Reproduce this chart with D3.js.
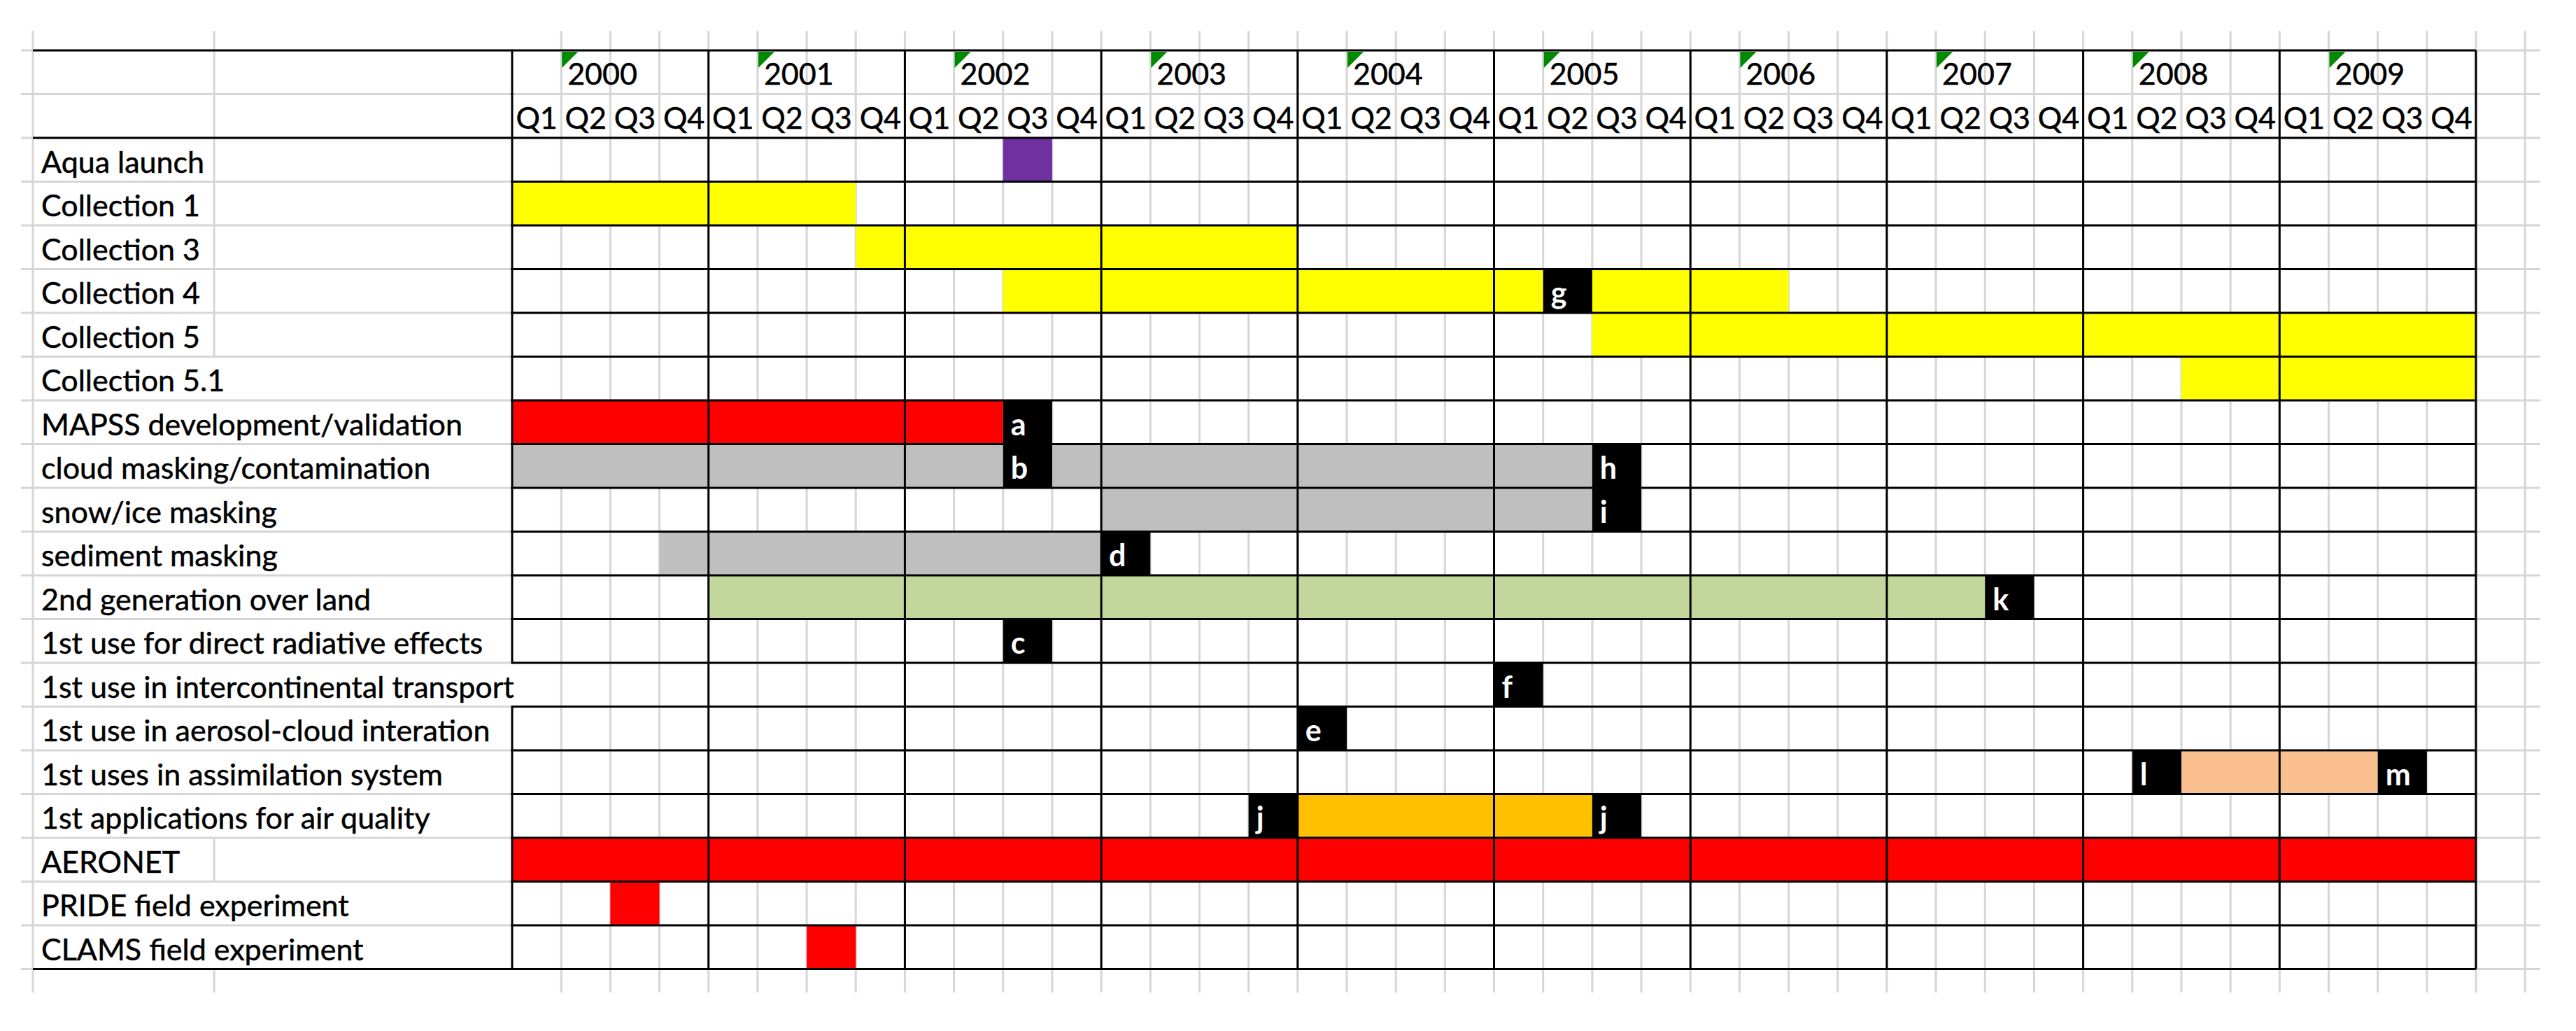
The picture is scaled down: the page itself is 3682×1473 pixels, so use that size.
<!DOCTYPE html>
<html>
<head>
<meta charset="utf-8">
<script src="https://cdn.jsdelivr.net/npm/d3@7"></script>
<style>
  body { margin: 0; background: #fff; }
  text { font-family: Lato, "Open Sans", sans-serif; }
</style>
</head>
<body>
<script>
'use strict';

// tick labels
var years = ['2000', '2001', '2002', '2003', '2004', '2005', '2006', '2007', '2008', '2009'];
var quarters = ['Q1', 'Q2', 'Q3', 'Q4'];

// row labels, top to bottom
var tasks = [
    'Aqua launch',
    'Collection 1',
    'Collection 3',
    'Collection 4',
    'Collection 5',
    'Collection 5.1',
    'MAPSS development/validation',
    'cloud masking/contamination',
    'snow/ice masking',
    'sediment masking',
    '2nd generation over land',
    '1st use for direct radiative effects',
    '1st use in intercontinental transport',
    '1st use in aerosol-cloud interation',
    '1st uses in assimilation system',
    '1st applications for air quality',
    'AERONET',
    'PRIDE field experiment',
    'CLAMS field experiment'
];

// [row, first quarter, last quarter, kind]
var bars = [
    ['Aqua launch', '2002 Q3', '2002 Q3', 'launch'],
    ['Collection 1', '2000 Q1', '2001 Q3', 'collection'],
    ['Collection 3', '2001 Q4', '2003 Q4', 'collection'],
    ['Collection 4', '2002 Q3', '2005 Q1', 'collection'],
    ['Collection 4', '2005 Q3', '2006 Q2', 'collection'],
    ['Collection 5', '2005 Q3', '2009 Q4', 'collection'],
    ['Collection 5.1', '2008 Q3', '2009 Q4', 'collection'],
    ['MAPSS development/validation', '2000 Q1', '2002 Q2', 'network'],
    ['cloud masking/contamination', '2000 Q1', '2002 Q2', 'masking'],
    ['cloud masking/contamination', '2002 Q4', '2005 Q2', 'masking'],
    ['snow/ice masking', '2003 Q1', '2005 Q2', 'masking'],
    ['sediment masking', '2000 Q4', '2002 Q4', 'masking'],
    ['2nd generation over land', '2001 Q1', '2007 Q2', 'land'],
    ['1st uses in assimilation system', '2008 Q3', '2009 Q2', 'assimilation'],
    ['1st applications for air quality', '2004 Q1', '2005 Q2', 'airquality'],
    ['AERONET', '2000 Q1', '2009 Q4', 'network'],
    ['PRIDE field experiment', '2000 Q3', '2000 Q3', 'network'],
    ['CLAMS field experiment', '2001 Q3', '2001 Q3', 'network']
];

// [row, quarter, letter]
var markers = [
    ['Collection 4', '2005 Q2', 'g'],
    ['MAPSS development/validation', '2002 Q3', 'a'],
    ['cloud masking/contamination', '2002 Q3', 'b'],
    ['cloud masking/contamination', '2005 Q3', 'h'],
    ['snow/ice masking', '2005 Q3', 'i'],
    ['sediment masking', '2003 Q1', 'd'],
    ['2nd generation over land', '2007 Q3', 'k'],
    ['1st use for direct radiative effects', '2002 Q3', 'c'],
    ['1st use in intercontinental transport', '2005 Q1', 'f'],
    ['1st use in aerosol-cloud interation', '2004 Q1', 'e'],
    ['1st uses in assimilation system', '2008 Q2', 'l'],
    ['1st uses in assimilation system', '2009 Q3', 'm'],
    ['1st applications for air quality', '2003 Q4', 'j'],
    ['1st applications for air quality', '2005 Q3', 'j']
];

var kind_colors = {
    launch: '#7030A0',
    collection: '#FFFF00',
    network: '#FF0000',
    masking: '#BFBFBF',
    land: '#C3D69B',
    assimilation: '#FAC090',
    airquality: '#FFC000'
};

var width = 3682,
    height = 1473,
    font_size = 43,
    label_x = 59,
    col_a = 47,
    col_b = 306,
    grid_color = '#d6d6d6';

function quarterIndex(s) {
    var parts = s.split(' ');
    return years.indexOf(parts[0]) * 4 + quarters.indexOf(parts[1]);
}

var n_quarters = years.length * quarters.length;
var x = d3.scaleLinear().domain([0, n_quarters]).range([732, 3539]);
var rows = ['year', 'quarter'].concat(tasks);
var y = d3.scaleBand().domain(rows).range([72, 1384.5]);
var rh = y.bandwidth();

var svg = d3.select('body').append('svg')
    .attr('width', width)
    .attr('height', height);

svg.append('rect').attr('width', width).attr('height', height).attr('fill', '#fff');

var grid_layer = svg.append('g').attr('stroke', grid_color).attr('stroke-width', 3),
    fill_layer = svg.append('g'),
    border_layer = svg.append('g').attr('stroke', '#000').attr('stroke-width', 3),
    text_layer = svg.append('g').attr('font-size', font_size);

// row labels (measured first, overflowing text hides grid lines)
var labels = text_layer.selectAll('text.label')
    .data(tasks)
    .join('text')
    .attr('class', 'label')
    .attr('x', label_x)
    .attr('y', function(d) { return y(d) + rh - 13; })
    .attr('fill', '#000')
    .attr('stroke', '#000')
    .attr('stroke-width', 0.5)
    .text(function(d) { return d; });

var label_end = {};
labels.each(function(d) { label_end[d] = label_x + this.getComputedTextLength(); });

// years, with the little green text-number flag in the Q2 cell
years.forEach(function(yr, i) {
    var x0 = x(i * 4 + 1);
    text_layer.append('text')
        .attr('x', x0 + 9)
        .attr('y', y('year') + rh - 14)
        .attr('stroke', '#000')
        .attr('stroke-width', 0.5)
        .text(yr);
    fill_layer.append('path')
        .attr('d', d3.line()([[x0 + 1, y('year') + 2], [x0 + 24, y('year') + 2], [x0 + 1, y('year') + 25]]))
        .attr('fill', '#008a00');
});

// quarter labels
text_layer.selectAll('text.q')
    .data(d3.range(n_quarters))
    .join('text')
    .attr('class', 'q')
    .attr('x', function(d) { return (x(d) + x(d + 1)) / 2; })
    .attr('y', y('quarter') + rh - 13)
    .attr('text-anchor', 'middle')
    .attr('stroke', '#000')
    .attr('stroke-width', 0.5)
    .text(function(d) { return quarters[d % 4]; });

// spreadsheet gridlines
var grid_top = 44,
    grid_bottom = 1418,
    grid_left = 30,
    grid_right = 3631;

grid_layer.selectAll('line.v')
    .data(d3.range(1, n_quarters + 2))
    .join('line')
    .attr('x1', function(d) { return x(d); })
    .attr('x2', function(d) { return x(d); })
    .attr('y1', grid_top)
    .attr('y2', grid_bottom);

grid_layer.append('line')
    .attr('x1', col_a).attr('x2', col_a)
    .attr('y1', grid_top).attr('y2', grid_bottom);

// column B line: only where the label does not run over it
var col_b_segments = [[grid_top, y('year')], [y('year'), y('quarter') + rh], [y.range()[1], grid_bottom]];
tasks.forEach(function(t) {
    if (label_end[t] < col_b - 2) col_b_segments.push([y(t), y(t) + rh]);
});
grid_layer.selectAll('line.b')
    .data(col_b_segments)
    .join('line')
    .attr('x1', col_b).attr('x2', col_b)
    .attr('y1', function(d) { return d[0]; })
    .attr('y2', function(d) { return d[1]; });

grid_layer.selectAll('line.h')
    .data(d3.range(rows.length + 1))
    .join('line')
    .attr('x1', grid_left)
    .attr('x2', grid_right)
    .attr('y1', function(d) { return y.range()[0] + d * rh; })
    .attr('y2', function(d) { return y.range()[0] + d * rh; });

// bars
fill_layer.selectAll('rect.bar')
    .data(bars)
    .join('rect')
    .attr('class', 'bar')
    .attr('x', function(d) { return x(quarterIndex(d[1])); })
    .attr('width', function(d) { return x(quarterIndex(d[2]) + 1) - x(quarterIndex(d[1])); })
    .attr('y', function(d) { return y(d[0]); })
    .attr('height', rh)
    .attr('fill', function(d) { return kind_colors[d[3]]; });

// lettered milestones
fill_layer.selectAll('rect.mark')
    .data(markers)
    .join('rect')
    .attr('class', 'mark')
    .attr('x', function(d) { return x(quarterIndex(d[1])); })
    .attr('width', function(d) { return x(quarterIndex(d[1]) + 1) - x(quarterIndex(d[1])); })
    .attr('y', function(d) { return y(d[0]); })
    .attr('height', rh)
    .attr('fill', '#000');

text_layer.selectAll('text.mark')
    .data(markers)
    .join('text')
    .attr('class', 'mark')
    .attr('x', function(d) { return x(quarterIndex(d[1])) + 11; })
    .attr('y', function(d) { return y(d[0]) + rh - 13; })
    .attr('fill', '#fff')
    .attr('font-weight', 'bold')
    .text(function(d) { return d[2]; });

// black borders
var x0 = x(0), x1 = x(n_quarters);
border_layer.selectAll('line.rowline')
    .data(d3.range(rows.length + 1).filter(function(k) { return k !== 1; }))
    .join('line')
    .attr('x1', function(k) { return (k === 0 || k === 2 || k === rows.length) ? col_a : x0; })
    .attr('x2', x1)
    .attr('y1', function(k) { return y.range()[0] + k * rh; })
    .attr('y2', function(k) { return y.range()[0] + k * rh; });

border_layer.selectAll('line.year')
    .data(d3.range(1, years.length + 1))
    .join('line')
    .attr('x1', function(i) { return x(i * 4); })
    .attr('x2', function(i) { return x(i * 4); })
    .attr('y1', y.range()[0])
    .attr('y2', y.range()[1]);

// left edge of the timeline, broken where a label runs into it
var left_rows = rows.filter(function(r) { return !(label_end[r] > x0); });
border_layer.selectAll('line.left')
    .data(left_rows)
    .join('line')
    .attr('x1', x0).attr('x2', x0)
    .attr('y1', function(r) { return y(r) - 1.5; })
    .attr('y2', function(r) { return y(r) + rh + 1.5; });
</script>
</body>
</html>
